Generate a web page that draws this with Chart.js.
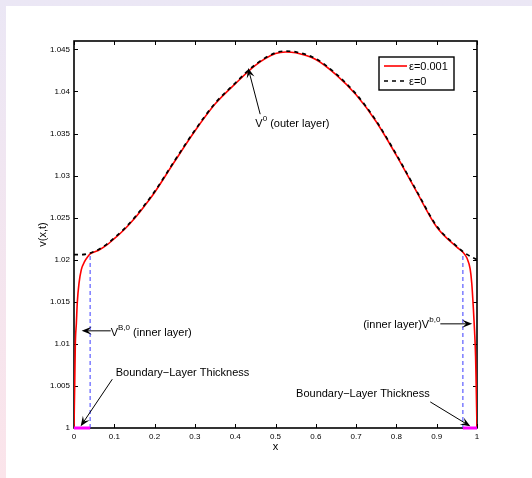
<!DOCTYPE html>
<html>
<head>
<meta charset="utf-8">
<script src="https://cdn.jsdelivr.net/npm/chart.js@4"></script>
<style>
  html, body { margin: 0; padding: 0; }
  body { width: 532px; height: 478px; position: relative; overflow: hidden;
         background: linear-gradient(#ebe7f5, #fbe4ea); }
  #panel { position: absolute; left: 6px; top: 6px; width: 526px; height: 472px; background: #fff; }
  #wrap { position: absolute; left: 0; top: 0; width: 532px; height: 478px; }
</style>
</head>
<body>
<div id="panel"></div>
<div id="wrap"><canvas id="myChart" width="532" height="478"></canvas></div>
<script>
// outer solution (eps = 0), dashed black
const xOuter = [0, 0.02, 0.04, 0.06, 0.08, 0.1, 0.125, 0.15, 0.175, 0.2, 0.25, 0.3, 0.35, 0.4, 0.45,
  0.5, 0.525, 0.55, 0.6, 0.65, 0.7, 0.75, 0.8, 0.85, 0.9, 0.95, 0.97, 1];
const vOuter = [1.0206, 1.0206, 1.0208, 1.0212, 1.0218, 1.0226, 1.0237, 1.0250, 1.0265, 1.0281, 1.0318,
  1.0354, 1.0386, 1.0410, 1.0432, 1.0446, 1.0448, 1.0447, 1.0439, 1.0421, 1.0397, 1.0365, 1.0325,
  1.0282, 1.0240, 1.0216, 1.0208, 1.0200];

// full solution (eps = 0.001), red
const xEps = [0, 0.0008, 0.0017, 0.0033, 0.0058, 0.0083, 0.0124, 0.018, 0.0265, 0.0347, 0.04, 0.06,
  0.08, 0.1, 0.125, 0.15, 0.175, 0.2, 0.25, 0.3, 0.35, 0.4, 0.45, 0.5, 0.525, 0.55, 0.6, 0.65, 0.7,
  0.75, 0.8, 0.85, 0.9, 0.95, 0.965, 0.975, 0.983, 0.987, 0.991, 0.994, 0.9965, 0.998, 0.999, 1];
const vEps = [1.0, 1.0025, 1.005, 1.0100, 1.0124, 1.0150, 1.0172, 1.0188, 1.0198, 1.0204, 1.0207,
  1.0211, 1.0217, 1.0225, 1.0236, 1.0249, 1.0264, 1.0280, 1.0317, 1.0353, 1.0385, 1.0409, 1.0431,
  1.0445, 1.0447, 1.0446, 1.0438, 1.0420, 1.0396, 1.0364, 1.0324, 1.0281, 1.0239, 1.0215, 1.0209,
  1.0202, 1.0189, 1.0172, 1.0142, 1.0115, 1.0085, 1.005, 1.0025, 1.0];

// boundary layer edges
const layerX = [0.04, 0.965];
const layerTop = [1.0207, 1.0209];

const xTicks = [0, 0.1, 0.2, 0.3, 0.4, 0.5, 0.6, 0.7, 0.8, 0.9, 1];
const xTickLabels = ['0', '0.1', '0.2', '0.3', '0.4', '0.5', '0.6', '0.7', '0.8', '0.9', '1'];
const yTicks = [1, 1.005, 1.01, 1.015, 1.02, 1.025, 1.03, 1.035, 1.04, 1.045];
const yTickLabels = ['1', '1.005', '1.01', '1.015', '1.02', '1.025', '1.03', '1.035', '1.04', '1.045'];

const legendLabels = ['\u03b5=0.001', '\u03b5=0'];

// text notes with arrows, in data coordinates
const notes = [
  { parts: [['V'], ['0', 1], [' (outer layer)']], at: [0.45, 1.0361], align: 'left',
    from: [0.462, 1.0373], to: [0.432, 1.0428] },
  { parts: [['V'], ['B,0', 1], [' (inner layer)']], at: [0.091, 1.0113], align: 'left',
    from: [0.091, 1.01155], to: [0.019, 1.01155] },
  { parts: [['(inner layer)V'], ['b,0', 1]], at: [0.909, 1.0123], align: 'right',
    from: [0.909, 1.01238], to: [0.988, 1.01238] },
  { parts: [['Boundary\u2212Layer Thickness']], at: [0.1035, 1.0065], align: 'left',
    from: [0.095, 1.0058], to: [0.0165, 1.0002] },
  { parts: [['Boundary\u2212Layer Thickness']], at: [0.551, 1.0040], align: 'left',
    from: [0.884, 1.0031], to: [0.9835, 1.0002] }
];

const FONT = '"Liberation Sans", Arial, sans-serif';

function arrow(ctx, x1, y1, x2, y2) {
  const a = Math.atan2(y2 - y1, x2 - x1);
  const L = 10, W = 4;
  const c = Math.cos(a), s = Math.sin(a);
  ctx.beginPath();
  ctx.moveTo(x1, y1);
  ctx.lineTo(x2 - L * 0.6 * c, y2 - L * 0.6 * s);
  ctx.stroke();
  ctx.beginPath();
  ctx.moveTo(x2, y2);
  ctx.lineTo(x2 - L * c + W * s, y2 - L * s - W * c);
  ctx.lineTo(x2 - L * 0.6 * c, y2 - L * 0.6 * s);
  ctx.lineTo(x2 - L * c - W * s, y2 - L * s + W * c);
  ctx.closePath();
  ctx.fill();
}

function richText(ctx, parts, x, y, align) {
  const big = '11px ' + FONT, small = '8px ' + FONT;
  let total = 0;
  parts.forEach(p => { ctx.font = p[1] ? small : big; total += ctx.measureText(p[0]).width; });
  let cx = align === 'right' ? x - total : x;
  ctx.textAlign = 'left';
  ctx.textBaseline = 'middle';
  parts.forEach(p => {
    ctx.font = p[1] ? small : big;
    ctx.fillText(p[0], cx, p[1] ? y - 5 : y);
    cx += ctx.measureText(p[0]).width;
  });
}

const framePlugin = {
  id: 'frame',
  beforeDatasetsDraw(chart) {
    const { ctx, chartArea: a, scales: { x, y } } = chart;
    ctx.save();
    ctx.strokeStyle = '#000';
    ctx.lineWidth = 1;
    ctx.beginPath();
    x.ticks.forEach(t => {
      const px = Math.round(x.getPixelForValue(t.value)) + 0.5;
      ctx.moveTo(px, a.bottom); ctx.lineTo(px, a.bottom - 4);
      ctx.moveTo(px, a.top); ctx.lineTo(px, a.top + 4);
    });
    y.ticks.forEach(t => {
      const py = Math.round(y.getPixelForValue(t.value)) + 0.5;
      ctx.moveTo(a.left, py); ctx.lineTo(a.left + 4, py);
      ctx.moveTo(a.right, py); ctx.lineTo(a.right - 4, py);
    });
    ctx.stroke();
    ctx.lineWidth = 1.6;
    ctx.strokeRect(a.left, a.top, a.right - a.left, a.bottom - a.top);
    ctx.restore();
  },
  afterDatasetsDraw(chart) {
    const { ctx, chartArea: a, scales: { x, y } } = chart;
    ctx.save();
    ctx.strokeStyle = '#000';
    ctx.fillStyle = '#000';
    ctx.lineWidth = 1;
    notes.forEach(n => {
      arrow(ctx, x.getPixelForValue(n.from[0]), y.getPixelForValue(n.from[1]),
        x.getPixelForValue(n.to[0]), y.getPixelForValue(n.to[1]));
      richText(ctx, n.parts, x.getPixelForValue(n.at[0]), y.getPixelForValue(n.at[1]), n.align);
    });

    // legend box
    const lx = a.right - 98, ly = a.top + 16, lw = 75, lh = 33;
    ctx.fillStyle = '#fff';
    ctx.fillRect(lx, ly, lw, lh);
    ctx.lineWidth = 1.4;
    ctx.strokeRect(lx, ly, lw, lh);
    const styles = chart.data.datasets.slice(0, 2);
    styles.forEach((ds, i) => {
      const yy = ly + 9 + i * 15;
      ctx.beginPath();
      ctx.strokeStyle = ds.borderColor;
      ctx.lineWidth = ds.borderWidth;
      ctx.setLineDash(ds.borderDash || []);
      ctx.moveTo(lx + 5, yy); ctx.lineTo(lx + 28, yy);
      ctx.stroke();
      ctx.setLineDash([]);
      ctx.fillStyle = '#000';
      ctx.font = '11px ' + FONT;
      ctx.textAlign = 'left';
      ctx.textBaseline = 'middle';
      ctx.fillText(legendLabels[i], lx + 30, yy + 0.5);
    });
    ctx.restore();
  }
};

const pts = (xs, vs) => xs.map((v, i) => ({ x: v, y: vs[i] }));

new Chart(document.getElementById('myChart'), {
  type: 'scatter',
  data: {
    datasets: [
      { label: legendLabels[0], data: pts(xEps, vEps), showLine: true, borderColor: '#ff0000',
        borderWidth: 1.6, pointRadius: 0, cubicInterpolationMode: 'monotone', order: 2 },
      { label: legendLabels[1], data: pts(xOuter, vOuter), showLine: true, borderColor: '#000000',
        borderWidth: 1.7, borderDash: [4, 4], pointRadius: 0, cubicInterpolationMode: 'monotone', order: 1 },
      { data: [{ x: layerX[0], y: 1 }, { x: layerX[0], y: layerTop[0] }], showLine: true,
        borderColor: '#3b3bff', borderWidth: 1, borderDash: [4, 3], pointRadius: 0, order: 3 },
      { data: [{ x: layerX[1], y: 1 }, { x: layerX[1], y: layerTop[1] }], showLine: true,
        borderColor: '#3b3bff', borderWidth: 1, borderDash: [4, 3], pointRadius: 0, order: 3 },
      { data: [{ x: 0, y: 1 }, { x: layerX[0], y: 1 }], showLine: true, borderColor: '#ff00ff',
        borderWidth: 3, pointRadius: 0, clip: false, order: 0 },
      { data: [{ x: layerX[1], y: 1 }, { x: 1, y: 1 }], showLine: true, borderColor: '#ff00ff',
        borderWidth: 3, pointRadius: 0, clip: false, order: 0 }
    ]
  },
  options: {
    responsive: false,
    animation: false,
    events: [],
    layout: { padding: { left: 0, top: 41, right: 55, bottom: 0 } },
    plugins: { legend: { display: false }, tooltip: { enabled: false } },
    scales: {
      x: {
        type: 'linear',
        min: 0,
        max: 1,
        grid: { display: false, drawTicks: false },
        border: { display: false },
        afterBuildTicks: s => { s.ticks = xTicks.map(v => ({ value: v })); },
        afterFit: s => { s.height = 50; s.paddingLeft = 0; s.paddingRight = 0; },
        ticks: {
          autoSkip: false, maxRotation: 0, padding: 4, color: '#000',
          font: { family: FONT, size: 8 },
          callback: (v, i) => xTickLabels[i]
        },
        title: { display: true, text: 'x', color: '#000', font: { family: FONT, size: 11 },
          padding: { top: 0, bottom: 24 } }
      },
      y: {
        type: 'linear',
        min: 1,
        max: 1.046,
        grid: { display: false, drawTicks: false },
        border: { display: false },
        afterBuildTicks: s => { s.ticks = yTicks.map(v => ({ value: v })); },
        afterFit: s => { s.width = 74; s.paddingTop = 0; s.paddingBottom = 0; },
        ticks: {
          autoSkip: false, padding: 4, color: '#000',
          font: { family: FONT, size: 8 },
          callback: (v, i) => yTickLabels[i]
        },
        title: { display: true, text: 'v(x,t)', color: '#000', font: { family: FONT, size: 11 },
          padding: { top: 36, bottom: 0 } }
      }
    }
  },
  plugins: [framePlugin]
});
</script>
</body>
</html>
